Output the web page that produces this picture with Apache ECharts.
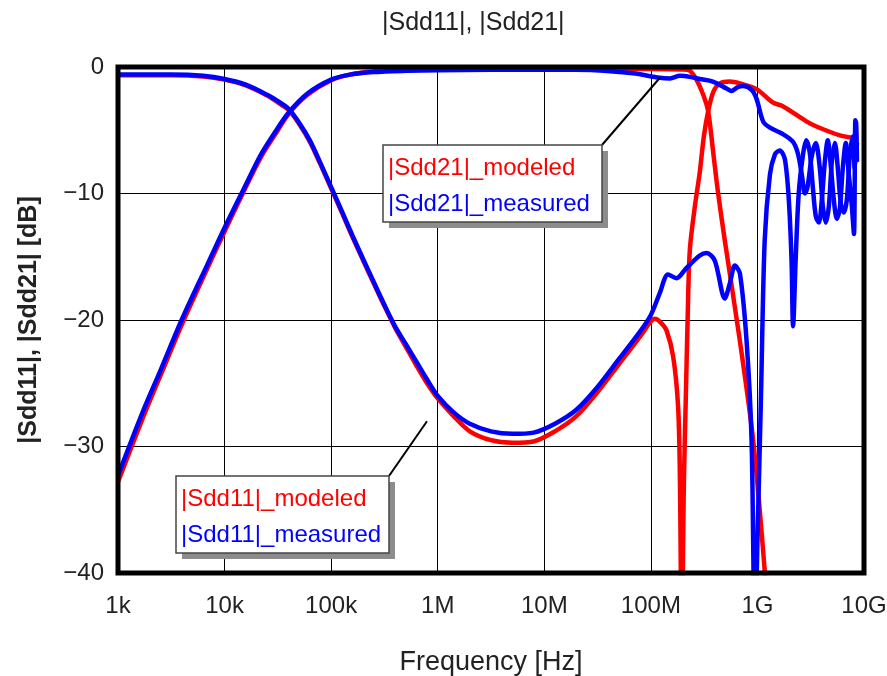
<!DOCTYPE html>
<html>
<head>
<meta charset="utf-8">
<title>|Sdd11|, |Sdd21|</title>
<script src="https://cdn.jsdelivr.net/npm/echarts@6.0.0/dist/echarts.min.js"></script>
<style>
  html, body { margin: 0; padding: 0; background: #fff; }
  #chart { width: 887px; height: 676px; }
</style>
</head>
<body>
<div id="chart"></div>
<script>
// tick labels of the log frequency axis (1e3 .. 1e10)
var xTickLabels = ['1k', '10k', '100k', '1M', '10M', '100M', '1G', '10G']

// |Sdd21| modeled
var sdd21ModFreq = [1e3, 1.7e3, 2.5e3, 4e3, 7e3, 1e4, 1.5e4, 2.2e4, 3e4, 4e4, 6e4, 1e5, 1.5e5, 2.5e5, 5e5, 1e6, 1e7, 1e8, 2e8, 2.32e8, 2.68e8, 3.1e8, 3.45e8, 3.84e8, 4.28e8, 4.94e8, 6.83e8, 9.12e8, 1.175e9, 1.3e9]
var sdd21ModDb = [-32.8, -27.8, -24.4, -20.3, -15.8, -13.0, -9.9, -7.1, -5.3, -3.7, -2.2, -1.05, -0.6, -0.35, -0.25, -0.2, -0.15, -0.15, -0.2, -0.3, -1.0, -2.2, -3.5, -6.7, -10.0, -13.7, -21.6, -29.5, -40, -46]

// |Sdd21| measured
var sdd21MeasFreq = [1e3, 1.7e3, 2.5e3, 4e3, 7e3, 1e4, 1.5e4, 2.2e4, 3e4, 4e4, 6e4, 1e5, 1.5e5, 2.5e5, 5e5, 1e6, 1e7, 3e7, 6.8e7, 1.21e8, 1.51e8, 1.87e8, 2.4e8, 2.88e8, 3.82e8, 5.13e8, 5.71e8, 6.5e8, 7.34e8, 8.81e8, 9.8e8, 1.13e9, 1.31e9, 1.73e9, 2.15e9, 2.39e9, 2.61e9, 2.79e9, 2.95e9, 3.24e9, 3.53e9, 3.85e9, 4.11e9, 4.38e9, 4.68e9, 4.99e9, 5.33e9, 5.68e9, 6.06e9, 6.47e9, 6.9e9, 7.36e9, 7.85e9, 8.2e9, 8.6e9]
var sdd21MeasDb = [-32.3, -27.3, -24.0, -19.9, -15.5, -12.7, -9.7, -6.9, -5.1, -3.6, -2.1, -1.0, -0.6, -0.4, -0.3, -0.25, -0.2, -0.25, -0.5, -0.85, -0.9, -0.7, -0.8, -0.95, -1.15, -1.7, -1.9, -1.6, -1.5, -1.8, -2.5, -4.3, -4.8, -5.3, -5.9, -6.8, -8.5, -10.0, -9.5, -7.0, -6.0, -8.0, -11.0, -12.3, -11.0, -7.5, -6.0, -8.0, -10.8, -11.5, -10.5, -7.0, -5.5, -8.0, -6.0]

// |Sdd11| modeled
var sdd11ModFreq = [1e3, 3.16e3, 6.31e3, 1e4, 1.58e4, 2.51e4, 3.16e4, 3.98e4, 5.01e4, 6.31e4, 7.94e4, 1e5, 1.26e5, 1.58e5, 2e5, 2.51e5, 3.16e5, 3.98e5, 5.01e5, 6.31e5, 7.94e5, 1e6, 1.41e6, 2e6, 3.16e6, 5.01e6, 7.94e6, 1.26e7, 2e7, 3.16e7, 5.01e7, 7.94e7, 1e8, 1.09e8, 1.24e8, 1.4e8, 1.62e8, 1.8e8, 1.87e8, 1.95e8, 2.04e8, 2.13e8, 2.22e8, 2.32e8, 2.59e8, 2.88e8, 3.14e8, 3.45e8, 3.84e8, 4.44e8, 5.51e8, 6.84e8, 9.8e8, 1.39e9, 1.73e9, 2.88e9, 3.57e9, 5.93e9, 8.8e9]
var sdd11ModDb = [-0.65, -0.65, -0.75, -1.0, -1.45, -2.25, -2.8, -3.4, -4.5, -5.9, -7.7, -9.6, -11.5, -13.4, -15.3, -17.1, -18.9, -20.6, -22.1, -23.6, -25.0, -26.2, -27.6, -28.8, -29.5, -29.7, -29.6, -28.8, -27.6, -25.7, -23.5, -21.3, -20.1, -19.9, -20.2, -20.8, -22.9, -26.8, -32, -46, -33, -26, -19.5, -14.5, -11.0, -8.3, -5.5, -3.5, -2.0, -1.3, -1.15, -1.3, -1.75, -2.8, -3.1, -4.3, -4.7, -5.4, -5.65]

// |Sdd11| measured
var sdd11MeasFreq = [1e3, 3.16e3, 6.31e3, 1e4, 1.58e4, 2.51e4, 3.16e4, 3.98e4, 5.01e4, 6.31e4, 7.94e4, 1e5, 1.26e5, 1.58e5, 2e5, 2.51e5, 3.16e5, 3.98e5, 5.01e5, 6.31e5, 7.94e5, 1e6, 1.41e6, 2e6, 3.16e6, 5.01e6, 7.94e6, 1.26e7, 2e7, 3.16e7, 5.01e7, 7.94e7, 1e8, 1.21e8, 1.45e8, 1.74e8, 2.15e8, 2.88e8, 3.33e8, 3.98e8, 4.94e8, 5.51e8, 6.14e8, 6.84e8, 7.9e8, 8.81e8, 9.46e8, 1.01e9, 1.08e9, 1.17e9, 1.31e9, 1.46e9, 1.62e9, 1.81e9, 1.97e9, 2.09e9, 2.16e9, 2.29e9, 2.44e9, 2.67e9, 2.87e9, 3.1e9, 3.31e9, 3.53e9, 3.77e9, 4.02e9, 4.29e9, 4.57e9, 4.88e9, 5.21e9, 5.56e9, 5.93e9, 6.32e9, 6.75e9, 7.2e9, 7.69e9, 8.05e9, 8.3e9, 8.45e9, 8.6e9]
var sdd11MeasDb = [-0.6, -0.6, -0.7, -0.95, -1.4, -2.2, -2.7, -3.3, -4.4, -5.8, -7.6, -9.5, -11.4, -13.3, -15.2, -17.0, -18.8, -20.5, -21.9, -23.3, -24.7, -26.0, -27.3, -28.2, -28.8, -29.0, -28.9, -28.2, -27.1, -25.3, -23.1, -20.9, -19.6, -17.9, -16.4, -16.7, -15.9, -14.9, -14.7, -15.3, -18.3, -17.1, -15.7, -16.3, -21.6, -29.5, -45, -36, -26, -13.7, -8.5, -6.9, -6.6, -7.3, -10.5, -15.3, -20.5, -15, -10, -7, -5.8, -6.8, -9.5, -11.8, -12.3, -10.5, -7.5, -5.8, -7.8, -10.5, -12.0, -11.2, -8.0, -6.0, -8.5, -11, -13.2, -4.2, -4.5, -7.5]

function zip(xs, ys) {
  return xs.map(function (x, i) { return [x, ys[i]] })
}

var font = '"Liberation Sans", Arial, sans-serif'
var chart = echarts.init(document.getElementById('chart'))

function lineSeries(name, color, xs, ys, z) {
  return {
    name: name,
    type: 'line',
    data: zip(xs, ys),
    showSymbol: false,
    smooth: 0.3,
    clip: true,
    z: z,
    lineStyle: { color: color, width: 4.5 }
  }
}

chart.setOption({
  backgroundColor: '#ffffff',
  animation: false,
  title: {
    text: '|Sdd11|, |Sdd21|',
    left: 377,
    top: 6,
    textStyle: { fontFamily: font, fontSize: 25, fontWeight: 'normal', color: '#222' }
  },
  grid: {
    left: 118,
    right: 23,
    top: 67,
    bottom: 103,
    outerBoundsMode: 'none',
    show: true,
    z: 10,
    backgroundColor: 'transparent',
    borderColor: '#000',
    borderWidth: 5
  },
  xAxis: {
    type: 'log',
    logBase: 10,
    min: 1e3,
    max: 1e10,
    splitNumber: 7,
    name: 'Frequency [Hz]',
    nameLocation: 'middle',
    nameGap: 76,
    nameTextStyle: { fontFamily: font, fontSize: 27, color: '#222' },
    axisLine: { show: false },
    axisTick: { show: false },
    minorTick: { show: false },
    axisLabel: {
      margin: 21,
      fontFamily: font,
      fontSize: 24,
      color: '#222',
      formatter: function (v) {
        return xTickLabels[Math.round(Math.log10(v)) - 3]
      }
    },
    splitLine: { show: true, lineStyle: { color: '#000', width: 1 } }
  },
  yAxis: {
    type: 'value',
    min: -40,
    max: 0,
    interval: 10,
    name: '|Sdd11|, |Sdd21| [dB]',
    nameLocation: 'middle',
    nameGap: 76,
    nameTextStyle: { fontFamily: font, fontSize: 25, fontWeight: 'bold', color: '#222' },
    axisLine: { show: false },
    axisTick: { show: false },
    axisLabel: {
      margin: 14,
      fontFamily: font,
      fontSize: 24,
      color: '#222',
      formatter: function (v) {
        return v === 0 ? '0' : '\u2212' + Math.abs(v)
      }
    },
    splitLine: { show: true, lineStyle: { color: '#000', width: 1 } }
  },
  series: [
    lineSeries('|Sdd21|_modeled', '#ff0000', sdd21ModFreq, sdd21ModDb, 2),
    lineSeries('|Sdd11|_modeled', '#ff0000', sdd11ModFreq, sdd11ModDb, 2),
    lineSeries('|Sdd21|_measured', '#0000ff', sdd21MeasFreq, sdd21MeasDb, 3),
    lineSeries('|Sdd11|_measured', '#0000ff', sdd11MeasFreq, sdd11MeasDb, 3)
  ]
})

// annotation boxes with drop shadow and leader lines
function noteBox(x, y, w, h, lines, anchor) {
  var tip = chart.convertToPixel({ gridIndex: 0 }, anchor)
  var els = [
    { type: 'line', z: 100, shape: { x1: x + w, y1: y, x2: tip[0], y2: tip[1] }, style: { stroke: '#000', lineWidth: 2 } },
    { type: 'rect', z: 100, shape: { x: x + 6, y: y + 6, width: w, height: h }, style: { fill: '#8c8c8c' } },
    { type: 'rect', z: 101, shape: { x: x, y: y, width: w, height: h }, style: { fill: '#fff', stroke: '#444', lineWidth: 1.5 } }
  ]
  lines.forEach(function (ln, i) {
    els.push({
      type: 'text', z: 102,
      style: { text: ln.text, x: x + 5, y: y + 23 + i * 36.5, fill: ln.color, font: '24px ' + font, verticalAlign: 'middle' }
    })
  })
  return els
}

var notes = []
  .concat(noteBox(383, 145, 219, 77, [
    { text: '|Sdd21|_modeled', color: '#ff0000' },
    { text: '|Sdd21|_measured', color: '#0000ff' }
  ], [1.21e8, -0.87]))
  .concat(noteBox(176, 476, 213, 77, [
    { text: '|Sdd11|_modeled', color: '#ff0000' },
    { text: '|Sdd11|_measured', color: '#0000ff' }
  ], [7.93e5, -28]))

chart.setOption({ graphic: notes })
</script>
</body>
</html>
